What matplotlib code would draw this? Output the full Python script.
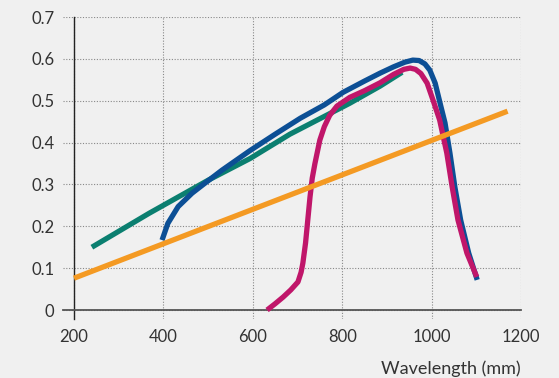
import matplotlib.pyplot as plt

orange_x = [200, 1170]
orange_y = [0.076, 0.475]

teal_x = [240, 368, 500, 594, 683, 817, 885, 934]
teal_y = [0.15, 0.231, 0.31, 0.362, 0.42, 0.494, 0.535, 0.568]

blue_x = [397, 410, 433, 464, 493, 531, 594, 650, 706, 760, 802, 850, 885, 915, 940,
          958, 972, 985, 996, 1008, 1019, 1030, 1041, 1052, 1065, 1083, 1102]
blue_y = [0.167, 0.207, 0.247, 0.279, 0.303, 0.334, 0.381, 0.42, 0.458, 0.49, 0.52,
          0.547, 0.566, 0.581, 0.592, 0.597, 0.596, 0.588, 0.573, 0.542, 0.494, 0.447,
          0.375, 0.294, 0.215, 0.136, 0.072]

magenta_x = [632, 650, 668, 685, 701, 708, 712, 718, 723, 728, 733, 739, 750, 760, 772,
             788, 817, 850, 885, 915, 938, 952, 964, 976, 990, 1003, 1018, 1034, 1046,
             1059, 1079, 1101]
magenta_y = [0.0, 0.015, 0.031, 0.048, 0.067, 0.09, 0.112, 0.16, 0.215, 0.27, 0.315,
             0.35, 0.406, 0.438, 0.465, 0.487, 0.508, 0.524, 0.543, 0.563, 0.575, 0.578,
             0.575, 0.565, 0.542, 0.502, 0.454, 0.375, 0.294, 0.215, 0.136, 0.079]

xticks = [200, 400, 600, 800, 1000, 1200]
yticks = [0, 0.1, 0.2, 0.3, 0.4, 0.5, 0.6, 0.7]
ylabels = ["0", "0.1", "0.2", "0.3", "0.4", "0.5", "0.6", "0.7"]

bg = "#f0f0f0"
txt = "#333333"
plt.rcParams['font.family'] = ['Lato', 'DejaVu Sans']

fig = plt.figure(figsize=(5.59, 3.78), dpi=100, facecolor=bg)
ax = fig.add_axes([63/559, 1-319/378, (521-63)/559, (319-17)/378])
ax.set_facecolor(bg)

kw = dict(lw=3.8, solid_capstyle='butt', solid_joinstyle='round')
ax.plot(teal_x, teal_y, color="#0b7f70", zorder=3, **kw)
ax.plot(blue_x, blue_y, color="#0c4f95", zorder=4, **kw)
ax.plot(magenta_x, magenta_y, color="#c0166a", zorder=5, **kw)
ax.plot(orange_x, orange_y, color="#f49a23", zorder=6, **kw)

ax.set_xlim(175.4, 1200)
ax.set_ylim(-0.0215, 0.7)
ax.set_xticks(xticks)
ax.set_yticks(yticks)
ax.set_yticklabels(ylabels)
ax.tick_params(length=0, labelsize=12, labelcolor=txt)
ax.tick_params(axis='y', pad=14)
ax.tick_params(axis='x', pad=14)

ax.grid(True, linestyle=(0, (1, 1.5)), color="#888888", lw=0.8)
ax.set_axisbelow(True)

for s in ['top', 'right']:
    ax.spines[s].set_visible(False)
ax.spines['left'].set_position(('data', 200))
ax.spines['bottom'].set_position(('data', 0))
ax.spines['left'].set_color("#222222")
ax.spines['bottom'].set_color("#555555")
ax.spines['left'].set_linewidth(1.0)
ax.spines['bottom'].set_linewidth(1.3)
ax.spines['bottom'].set_bounds(175.4, 1200)
ax.xaxis.set_ticks_position('bottom')

fig.text(521/559, 1-369/378, "Wavelength (mm)", ha='right', va='center',
         fontsize=13, color=txt)

fig.savefig("out.png", dpi=100, facecolor=bg)
